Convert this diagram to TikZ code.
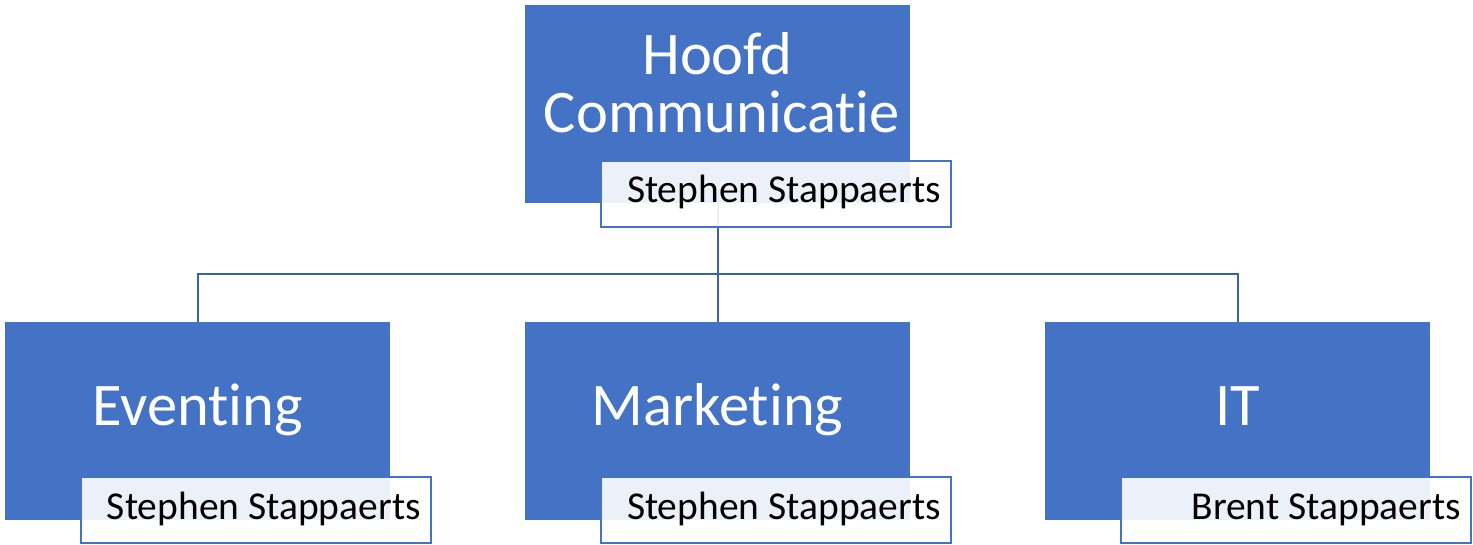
\documentclass[tikz,border=0pt]{standalone}
\usepackage{fontspec}
\setmainfont[Ligatures={NoCommon}]{Carlito}
\definecolor{accblue}{HTML}{4472C4}
\definecolor{lineblue}{HTML}{3B62A8}
\tikzset{
  bluebox/.style={rectangle, fill=accblue, draw=none, inner sep=0pt, outer sep=0pt, minimum width=385pt, minimum height=198pt},
  namebox/.style={rectangle, fill=white, fill opacity=0.9, draw=accblue, line width=2pt, inner sep=0pt, outer sep=0pt, minimum width=350pt, minimum height=66pt},
  maintext/.style={text=white, inner sep=0pt, font=\fontsize{60.5}{58}\selectfont},
  nametext/.style={text=black, inner sep=0pt, font=\fontsize{39.5}{44}\selectfont},
  conn/.style={draw=lineblue, line width=2pt}
}
\begin{document}
\begin{tikzpicture}[x=1pt,y=-1pt]
\useasboundingbox (0,0) rectangle (1473,545);
% blue boxes
\node[bluebox] (top) at (717.5,104) {};
\node[bluebox] (ev) at (197.5,421) {};
\node[bluebox] (mk) at (717.5,421) {};
\node[bluebox] (it) at (1237.5,421) {};
% connectors
\coordinate (junc) at (717.5,274);
\draw[conn] (top.south) -- (junc);
\draw[conn] (junc) -| (ev.north);
\draw[conn] (junc) -- (mk.north);
\draw[conn] (junc) -| (it.north);
% name boxes
\node[namebox] (topl) at (776,194) {};
\node[namebox] (evl) at (255.5,510) {};
\node[namebox] (mkl) at (775.5,510) {};
\node[namebox] (itl) at (1295.5,510) {};
% main texts
\node[maintext, anchor=base] (t1a) at (717.5,75) {Hoofd};
\node[maintext, anchor=base] (t1b) at (722,133) {Communicatie};
\node[maintext, anchor=base] (t2) at (197.5,425) {Eventing};
\node[maintext, anchor=base] (t3) at (717.5,425) {Marketing};
\node[maintext, anchor=base] (t4) at (1237.5,425) {IT};
% name texts
\node[nametext, anchor=base east] (n1) at (941,203) {Stephen Stappaerts};
\node[nametext, anchor=base east] (n2) at (421,519) {Stephen Stappaerts};
\node[nametext, anchor=base east] (n3) at (941,519) {Stephen Stappaerts};
\node[nametext, anchor=base east] (n4) at (1461,519) {Brent Stappaerts};
\end{tikzpicture}
\end{document}
